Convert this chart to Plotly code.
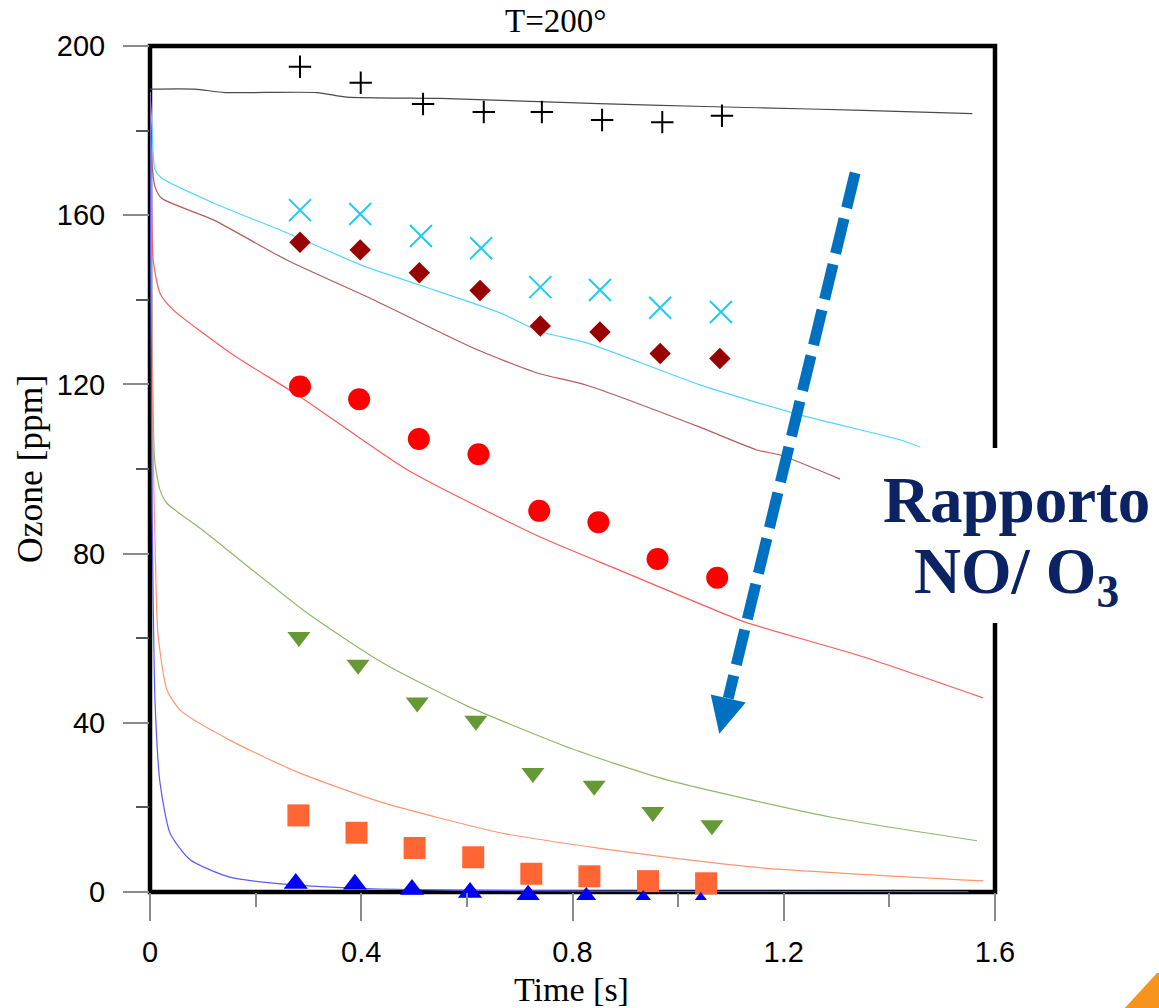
import plotly.graph_objects as go

# ---- Measured ozone (points), one series per NO/O3 ratio ----
t_plus = [0.284, 0.399, 0.517, 0.632, 0.742, 0.856, 0.970, 1.083]
o3_plus = [195.1, 191.3, 186.3, 184.4, 184.4, 182.5, 182.0, 183.5]

t_x = [0.284, 0.398, 0.513, 0.627, 0.739, 0.852, 0.966, 1.081]
o3_x = [161.2, 160.3, 155.1, 152.2, 143.0, 142.3, 138.1, 137.1]

t_diamond = [0.284, 0.398, 0.510, 0.625, 0.739, 0.852, 0.966, 1.079]
o3_diamond = [153.6, 151.8, 146.4, 142.2, 133.8, 132.4, 127.3, 126.1]

t_circle = [0.284, 0.396, 0.509, 0.622, 0.737, 0.849, 0.961, 1.074]
o3_circle = [119.5, 116.5, 107.1, 103.5, 90.1, 87.4, 78.7, 74.3]

t_tridown = [0.282, 0.394, 0.506, 0.617, 0.725, 0.841, 0.952, 1.064]
o3_tridown = [60.3, 53.7, 44.8, 40.5, 28.1, 25.1, 18.9, 15.8]

t_square = [0.281, 0.391, 0.501, 0.612, 0.722, 0.832, 0.943, 1.053]
o3_square = [18.1, 14.0, 10.4, 8.2, 4.3, 3.7, 2.55, 2.05]

t_triup = [0.276, 0.388, 0.496, 0.606, 0.716, 0.826, 0.934, 1.043]
o3_triup = [2.0, 1.8, 0.6, -0.1, -0.8, -1.3, -2.0, -2.5]

# ---- Model curves ----
t_m_black = [0, 0.085, 0.142, 0.316, 0.373, 0.55, 0.75, 0.95, 1.15, 1.35, 1.557]
o3_m_black = [189.8, 189.8, 189.0, 189.0, 187.9, 187.6, 186.8, 186.0, 185.4, 184.8, 184.0]

t_m_cyan = [0, 0.004, 0.0095, 0.022, 0.12, 0.26, 0.40, 0.51, 0.663, 0.738, 0.827, 1.041, 1.23, 1.42, 1.458]
o3_m_cyan = [189.0, 180.0, 170.7, 168.8, 162.9, 155.8, 148.2, 143.5, 136.9, 132.5, 129.8, 119.9, 112.8, 106.9, 105.2]

t_m_darkred = [0, 0.004, 0.0095, 0.022, 0.12, 0.259, 0.423, 0.612, 0.733, 0.827, 1.041, 1.149, 1.193, 1.307]
o3_m_darkred = [188.0, 172.0, 166.7, 164.0, 158.9, 149.4, 140.0, 128.6, 122.7, 119.8, 109.9, 104.5, 103.3, 97.6]

t_m_red = [0, 0.003, 0.006, 0.019, 0.044, 0.157, 0.284, 0.487, 0.739, 0.9, 1.055, 1.127, 1.35, 1.577]
o3_m_red = [188.0, 165.0, 149.4, 141.5, 137.6, 127.0, 117.1, 99.8, 83.9, 75.5, 67.4, 63.8, 55.6, 45.9]

t_m_green = [0, 0.004, 0.009, 0.019, 0.032, 0.1, 0.17, 0.297, 0.436, 0.6, 0.8, 0.979, 1.293, 1.566]
o3_m_green = [189.0, 130.0, 102.0, 95.0, 91.9, 85.5, 78.5, 66.0, 54.5, 44.0, 33.8, 26.5, 17.6, 12.1]

t_m_orange = [0, 0.003, 0.006, 0.01, 0.015, 0.032, 0.057, 0.151, 0.278, 0.436, 0.663, 0.852, 1.0, 1.168, 1.578]
o3_m_orange = [189.0, 140.0, 105.0, 80.0, 61.2, 47.8, 43.0, 35.9, 28.4, 21.3, 14.0, 10.3, 7.9, 5.6, 2.6]

t_m_blue = [0, 0.002, 0.004, 0.006, 0.0095, 0.019, 0.038, 0.076, 0.151, 0.278, 0.436, 0.7, 1.0, 1.55]
o3_m_blue = [189.0, 130.0, 90.0, 69.0, 45.0, 25.8, 13.9, 7.6, 3.5, 1.6, 0.7, 0.3, 0.15, 0.05]

x_ticks = [0, 0.4, 0.8, 1.2, 1.6]
x_ticktext = ["0", "0.4", "0.8", "1.2", "1.6"]
y_ticks = [0, 40, 80, 120, 160, 200]
y_ticktext = ["0", "40", "80", "120", "160", "200"]

# ---- Layout geometry (pixels) ----
W, H = 1159, 1008
M_L, M_R, M_T, M_B = 150, 164, 46, 108
X_RANGE = [0, 1.6]
Y_RANGE = [-1.9, 200]          # small band below zero lets low markers be clipped, not dropped
PLOT_W = W - M_L - M_R
PLOT_H = H - M_T - M_B


def px(xpix):
    """pixel column -> paper x"""
    return (xpix - M_L) / PLOT_W


def py(ypix):
    """pixel row -> paper y"""
    return (H - M_B - ypix) / PLOT_H


y_zero = (0 - Y_RANGE[0]) / (Y_RANGE[1] - Y_RANGE[0])   # paper y of ozone = 0

fig = go.Figure()

models = [
    (t_m_black, o3_m_black, "#4a4a4a"),
    (t_m_cyan, o3_m_cyan, "#4fd6ff"),
    (t_m_darkred, o3_m_darkred, "#b65a5a"),
    (t_m_red, o3_m_red, "#ff5a5a"),
    (t_m_green, o3_m_green, "#8fb86a"),
    (t_m_orange, o3_m_orange, "#ff9672"),
    (t_m_blue, o3_m_blue, "#5a5aff"),
]
for t, y, c in models:
    fig.add_trace(go.Scatter(x=t, y=y, mode="lines",
                             line=dict(color=c, width=1.2, shape="spline", smoothing=0.6),
                             showlegend=False, hoverinfo="skip"))

measured = [
    (t_plus, o3_plus, "cross-thin", 16, "#000000"),
    (t_x, o3_x, "x-thin", 22, "#1ecbf5"),
    (t_diamond, o3_diamond, "diamond", 16.5, "#990000"),
    (t_circle, o3_circle, "circle", 22, "#ff0000"),
    (t_tridown, o3_tridown, "triangle-down", 20, "#669933"),
    (t_square, o3_square, "square", 22, "#ff6633"),
    (t_triup, o3_triup, "triangle-up", 21, "#0000ff"),
]
for t, y, sym, size, c in measured:
    thin = sym.endswith("-thin")
    fig.add_trace(go.Scatter(
        x=t, y=y, mode="markers", cliponaxis=True, showlegend=False,
        marker=dict(symbol=sym, size=size, color=c,
                    line=dict(color=c, width=2 if thin else 0)),
    ))

# Arrow indicating increasing NO/O3 ratio (data coordinates)
arrow_start = (1.3351, 170.0)
arrow_base = (1.0949, 45.8)
arrow_head = [(1.0617, 46.7), (1.1280, 44.8), (1.0780, 37.4)]

shapes = [
    # plot frame (from ozone = 0 up to the top of the plot)
    dict(type="rect", xref="paper", yref="paper", x0=0, y0=y_zero, x1=1, y1=1,
         line=dict(color="black", width=4.5), layer="below"),
    # white panel behind the ratio label
    dict(type="rect", xref="paper", yref="paper", x0=px(840), x1=px(1170),
         y0=py(623), y1=py(448),
         line=dict(width=0), fillcolor="white", layer="above"),
    dict(type="line", xref="x", yref="y", x0=arrow_start[0], y0=arrow_start[1],
         x1=arrow_base[0], y1=arrow_base[1],
         line=dict(color="#0070c0", width=11, dash="36px,11px"), layer="above"),
    dict(type="path", xref="x", yref="y",
         path="M{},{} L{},{} L{},{} Z".format(arrow_head[0][0], arrow_head[0][1],
                                               arrow_head[1][0], arrow_head[1][1],
                                               arrow_head[2][0], arrow_head[2][1]),
         fillcolor="#0070c0", line=dict(width=0), layer="above"),
    # orange corner ornament
    dict(type="path", xref="paper", yref="paper",
         path="M{:.4f},{:.4f} L{:.4f},{:.4f} L{:.4f},{:.4f} L{:.4f},{:.4f} Z".format(
             px(1123), py(1010), px(1157), py(973), px(1170), py(973), px(1170), py(1010)),
         fillcolor="#f7941d", line=dict(width=0), layer="above"),
]

serif = "Liberation Serif, Times New Roman, serif"
annotations = [
    dict(text="T=200°", xref="paper", yref="paper", x=px(555), y=py(21),
         xanchor="center", yanchor="middle", showarrow=False,
         font=dict(family=serif, size=33, color="black")),
    dict(text="Time [s]", xref="paper", yref="paper", x=px(571.5), y=py(990),
         xanchor="center", yanchor="middle", showarrow=False,
         font=dict(family=serif, size=34, color="black")),
    dict(text="Ozone [ppm]", xref="paper", yref="paper", x=px(30), y=py(469),
         xanchor="center", yanchor="middle", textangle=-90, showarrow=False,
         font=dict(family=serif, size=35.5, color="black")),
    dict(text="<b>Rapporto</b>", xref="paper", yref="paper", x=px(1016), y=py(500),
         xanchor="center", yanchor="middle", showarrow=False,
         font=dict(family=serif, size=65, color="#0b2263")),
    dict(text="<b>NO/ O<sub>3</sub></b>", xref="paper", yref="paper", x=px(1016), y=py(576),
         xanchor="center", yanchor="middle", showarrow=False,
         font=dict(family=serif, size=65, color="#0b2263")),
]

tick_font = dict(family="Liberation Sans, Arial, sans-serif", size=29, color="black")
fig.update_layout(
    width=W, height=H,
    margin=dict(l=M_L, r=M_R, t=M_T, b=M_B),
    paper_bgcolor="white", plot_bgcolor="rgba(0,0,0,0)",
    shapes=shapes, annotations=annotations,
    xaxis=dict(range=X_RANGE, tickvals=x_ticks, ticktext=x_ticktext,
               anchor="free", position=y_zero,
               ticks="outside", ticklen=28, tickwidth=1.5, tickcolor="#8a8a8a",
               minor=dict(ticks="outside", ticklen=14, tickwidth=1.5, tickcolor="#8a8a8a",
                          tick0=0, dtick=0.2),
               showgrid=False, zeroline=False, showline=False,
               tickfont=tick_font, ticklabelstandoff=6),
    yaxis=dict(range=Y_RANGE, tickvals=y_ticks, ticktext=y_ticktext,
               ticks="outside", ticklen=26, tickwidth=1.5, tickcolor="#8a8a8a",
               minor=dict(ticks="outside", ticklen=13, tickwidth=1.5, tickcolor="#555555",
                          tick0=0, dtick=20),
               showgrid=False, zeroline=False, showline=False,
               tickfont=tick_font, ticklabelstandoff=12),
)

fig.write_html("out.html")
